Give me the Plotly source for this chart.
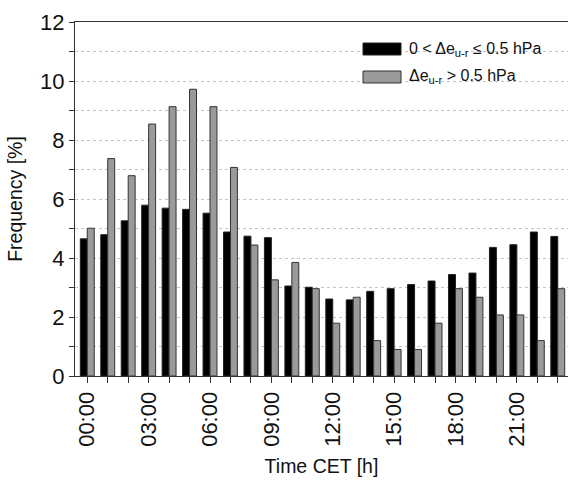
import plotly.graph_objects as go

hours = list(range(24))
tick_hours = [0, 3, 6, 9, 12, 15, 18, 21]
tick_labels = ["00:00", "03:00", "06:00", "09:00", "12:00", "15:00", "18:00", "21:00"]

small_diff = [4.65, 4.79, 5.26, 5.79, 5.69, 5.65, 5.52, 4.88, 4.74, 4.69, 3.05, 3.01,
              2.61, 2.58, 2.87, 2.96, 3.10, 3.22, 3.44, 3.49, 4.36, 4.45, 4.88, 4.73]
large_diff = [5.01, 7.37, 6.79, 8.54, 9.13, 9.72, 9.13, 7.07, 4.44, 3.26, 3.85, 2.96,
              1.79, 2.67, 1.20, 0.90, 0.90, 1.79, 2.96, 2.67, 2.07, 2.07, 1.20, 2.96]

name_small = "0 < Δe<sub>u-r</sub> ≤ 0.5 hPa"
name_large = "Δe<sub>u-r</sub> > 0.5 hPa"

FONT = "Liberation Sans, Arial, sans-serif"
W, H = 568, 480
ML, MR, MT, MB = 75, 0, 22, 104

fig = go.Figure()
fig.add_bar(x=hours, y=small_diff, name=name_small,
            marker=dict(color="#000000", line=dict(color="#222222", width=1)))
fig.add_bar(x=hours, y=large_diff, name=name_large,
            marker=dict(color="#9a9a9a", line=dict(color="#333333", width=1)))

# manual legend (pixel -> paper conversion)
pw, ph = W - ML - MR, H - MT - MB
def px(x):
    return (x - ML) / pw
def py(y):
    return (H - MB - y) / ph

shapes = [
    dict(type="rect", xref="paper", yref="paper", x0=px(358), x1=px(542), y0=py(38), y1=py(90),
         fillcolor="white", line=dict(width=0), layer="below"),
    dict(type="rect", xref="paper", yref="paper", x0=px(363), x1=px(401), y0=py(43), y1=py(55),
         fillcolor="#000000", line=dict(color="#222222", width=1)),
    dict(type="rect", xref="paper", yref="paper", x0=px(363), x1=px(401), y0=py(71), y1=py(83),
         fillcolor="#9a9a9a", line=dict(color="#333333", width=1)),
]
annotations = [
    dict(xref="paper", yref="paper", x=px(407), y=py(49), text=name_small, showarrow=False,
         xanchor="left", yanchor="middle", font=dict(size=16, color="#111111", family=FONT)),
    dict(xref="paper", yref="paper", x=px(407), y=py(77), text=name_large, showarrow=False,
         xanchor="left", yanchor="middle", font=dict(size=16, color="#111111", family=FONT)),
]

fig.update_layout(
    width=W, height=H,
    margin=dict(l=ML, r=MR, t=MT, b=MB, pad=0),
    paper_bgcolor="white", plot_bgcolor="white",
    barmode="group", bargap=0.32, bargroupgap=0.0,
    showlegend=False,
    font=dict(family=FONT, color="#111111", size=20),
    shapes=shapes, annotations=annotations,
    xaxis=dict(
        range=[-0.6, 23.5],
        tickmode="array", tickvals=tick_hours, ticktext=tick_labels,
        tickangle=-90, tickfont=dict(size=22),
        ticks="outside", ticklen=6, tickcolor="#333333",
        minor=dict(dtick=1, tick0=0, ticks="outside", ticklen=6, tickcolor="#333333"),
        showline=True, linecolor="#333333", linewidth=1, mirror=True,
        showgrid=False, zeroline=False,
        title=dict(text="Time CET [h]", font=dict(size=19.5), standoff=13),
    ),
    yaxis=dict(
        range=[0, 12], dtick=2, tick0=0,
        tickfont=dict(size=22),
        ticks="outside", ticklen=5, tickcolor="#333333",
        minor=dict(dtick=1, ticks="outside", ticklen=5, tickcolor="#333333",
                   showgrid=True, gridcolor="#c4c4c4", griddash="dot", gridwidth=1),
        showgrid=True, gridcolor="#c4c4c4", griddash="dot", gridwidth=1,
        showline=True, linecolor="#333333", linewidth=1,
        zeroline=False,
        title=dict(text="Frequency [%]", font=dict(size=19.5), standoff=12),
    ),
)

fig.write_html("out.html")
